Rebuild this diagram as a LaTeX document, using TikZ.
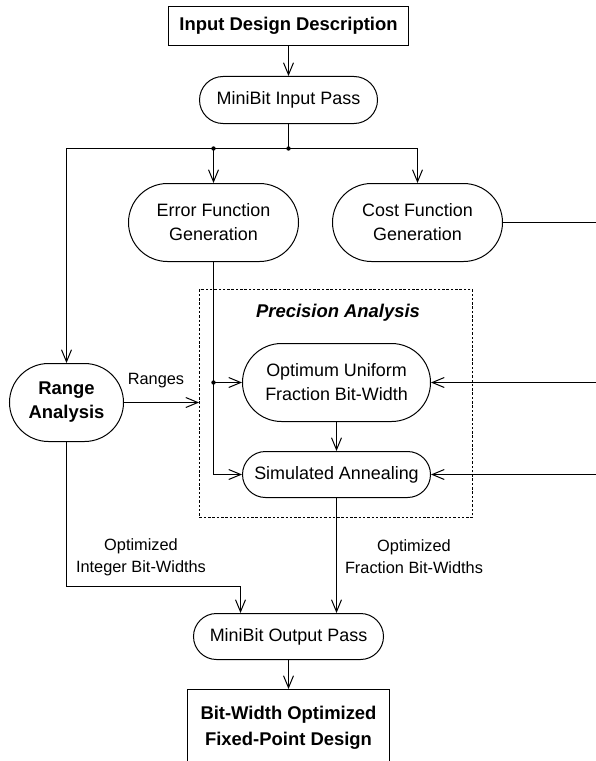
\documentclass[tikz,border=0pt]{standalone}
\usepackage{fontspec}
\setmainfont{Liberation Sans}
\usetikzlibrary{arrows.meta,shapes.misc,calc}
\begin{document}
\begin{tikzpicture}[x=1bp,y=-1bp,
  line width=1bp,
  arr/.style={-{Straight Barb[length=12bp,width=10bp,line width=1bp]}},
  sqbox/.style={draw,rectangle,inner sep=0pt,align=center,font=\fontsize{18.5}{26}\selectfont\bfseries},
  rbox/.style={draw,rounded rectangle,inner sep=0pt,align=center,font=\fontsize{18}{24}\selectfont},
  lbl/.style={align=center,inner sep=0pt,font=\fontsize{16.4}{22}\selectfont},
  jdot/.style={circle,fill,inner sep=0pt,minimum size=4.4bp}
]
\useasboundingbox (0,0) rectangle (596,761);
\clip (0,0) rectangle (596,761);

% nodes
\node[sqbox,minimum width=240bp,minimum height=39bp] (idd) at (288.5,26) {Input Design Description};
\node[rbox,minimum width=178bp,minimum height=47bp] (mip) at (288.5,100) {MiniBit Input Pass};
\node[rbox,minimum width=170bp,minimum height=78bp] (efg) at (213.5,222.5) {Error Function\\Generation};
\node[rbox,minimum width=170bp,minimum height=78bp] (cfg) at (417.5,222.5) {Cost Function\\Generation};
\node[rbox,minimum width=114bp,minimum height=78bp,font=\fontsize{18.5}{24}\selectfont\bfseries] (ra) at (66.5,402.5) {Range\\Analysis};
\node[draw,rectangle,line width=0.8bp,dash pattern=on 2.5bp off 1.8bp,minimum width=273bp,minimum height=228bp,inner sep=0pt] (pa) at (336,403.5) {};
\node[inner sep=0pt,font=\fontsize{18.5}{24}\selectfont\bfseries\itshape] (patitle) at (338,313) {Precision Analysis};
\node[rbox,minimum width=188bp,minimum height=78bp] (oufb) at (336.5,382.5) {Optimum Uniform\\Fraction Bit-Width};
\node[rbox,minimum width=188bp,minimum height=46bp] (sa) at (336.5,474.5) {Simulated Annealing};
\node[rbox,minimum width=190bp,minimum height=46bp] (mop) at (288.5,636.5) {MiniBit Output Pass};
\node[sqbox,minimum width=202bp,minimum height=76bp] (bwo) at (288.5,727.5) {Bit-Width Optimized\\Fixed-Point Design};

% labels
\node[lbl] (lranges) at (156,381) {Ranges};
\node[lbl] (lint) at (141,557) {Optimized\\Integer Bit-Widths};
\node[lbl] (lfrac) at (414,557) {Optimized\\Fraction Bit-Widths};

% coordinates
\coordinate (j1) at (288.5,148.5);
\coordinate (j2) at (213.5,148.5);
\coordinate (j3) at (213.5,382.5);
\coordinate (r0) at (600,222.5);
\coordinate (r1) at (600,382.5);
\coordinate (r2) at (600,474.5);
\coordinate (k) at (240.5,586.5);

% connectors
\draw[arr] (idd.south) -- (mip.north);
\draw (mip.south) -- (j1);
\draw[arr] (j1) -| (cfg.north);
\draw[arr] (j1) -| (ra.north);
\draw[arr] (j2) -- (efg.north);
\node[jdot] (d1) at (j1) {};
\node[jdot] (d2) at (j2) {};

\draw (cfg.east) -- (r0);
\draw[arr] (r1) -- (oufb.east);
\draw[arr] (r2) -- (sa.east);

\draw (efg.south) -- (j3);
\draw[arr] (j3) -- (oufb.west);
\draw[arr] (j3) |- (sa.west);
\node[jdot] (d3) at (j3) {};

\draw[arr] (ra.east) -- (ra.east -| pa.west);
\draw[arr] (oufb.south) -- (oufb.south |- sa.north);
\draw[arr] (sa.south) -- (sa.south |- mop.north);
\draw[arr] (ra.south) |- (k) -- (k |- mop.north);
\draw[arr] (mop.south) -- (mop.south |- bwo.north);
\end{tikzpicture}
\end{document}
